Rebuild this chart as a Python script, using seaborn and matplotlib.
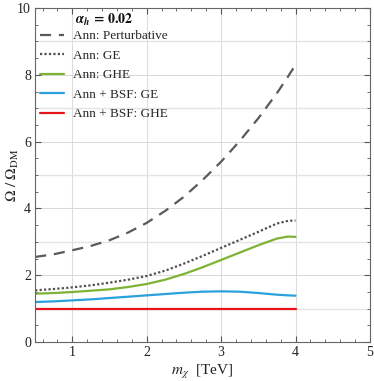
import pandas as pd
import matplotlib
matplotlib.use("Agg")
from matplotlib import pyplot as plt
from matplotlib.ticker import MultipleLocator
import seaborn as sns

# values
m_chi = [0.5, 0.75, 1.0, 1.25, 1.5, 1.75, 2.0, 2.25, 2.5, 2.75, 3.0, 3.25, 3.5, 3.75, 3.9, 4.0]
pert = [2.55, 2.63, 2.75, 2.88, 3.05, 3.28, 3.57, 3.93, 4.35, 4.85, 5.4, 6.02, 6.7, 7.45, 7.95, 8.3]
ann_ge = [1.55, 1.59, 1.64, 1.7, 1.78, 1.87, 1.98, 2.14, 2.35, 2.58, 2.82, 3.06, 3.3, 3.55, 3.63, 3.64]
ann_ghe = [1.45, 1.47, 1.5, 1.54, 1.58, 1.65, 1.74, 1.87, 2.04, 2.24, 2.46, 2.68, 2.9, 3.1, 3.16, 3.15]
bsf_ge = [1.2, 1.22, 1.25, 1.28, 1.32, 1.36, 1.4, 1.44, 1.48, 1.51, 1.52, 1.51, 1.47, 1.42, 1.4, 1.39]
bsf_ghe = [1.0] * 16

labels = ["Ann: Perturbative", "Ann: GE", "Ann: GHE", "Ann + BSF: GE", "Ann + BSF: GHE"]
colors = ["#5a5a5a", "#505050", "#7db234", "#2aa0dc", "#e8141b"]
styles = [(0, (5, 3.5)), (0, (1, 1)), "-", "-", "-"]

sns.set_style("ticks")
plt.rcParams["font.family"] = ["Liberation Serif", "DejaVu Serif"]
plt.rcParams["mathtext.fontset"] = "stix"

df = pd.DataFrame({"m": m_chi * 5,
                   "omega": pert + ann_ge + ann_ghe + bsf_ge + bsf_ghe,
                   "series": sum([[l] * len(m_chi) for l in labels], [])})

fig = plt.figure(figsize=(3.74, 3.81), dpi=100)
ax = fig.add_axes([0.094, 0.102, 0.895, 0.877])

for lab, c, ls in zip(labels, colors, styles):
    sub = df[df.series == lab]
    sns.lineplot(data=sub, x="m", y="omega", ax=ax, color=c, lw=1.6,
                 linestyle=ls, label=lab)

ax.set_xlim(0.5, 5)
ax.set_ylim(0, 10)
ax.xaxis.set_major_locator(MultipleLocator(1))
ax.xaxis.set_minor_locator(MultipleLocator(0.2))
ax.yaxis.set_major_locator(MultipleLocator(2))
ax.yaxis.set_minor_locator(MultipleLocator(0.5))
for v in range(1, 5):
    ax.axvline(v, color="#dddddd", lw=0.8, zorder=0)
for v in range(1, 10):
    ax.axhline(v, color="#e4e4e4" if v % 2 else "#d8d8d8", lw=1.0 if v % 2 else 0.7, zorder=0)
ax.tick_params(which="both", direction="in", top=True, right=True, colors="#555555",
               labelcolor="#222222", labelsize=10, pad=3)
ax.tick_params(which="major", length=4)
ax.tick_params(which="minor", length=2)
for s in ax.spines.values():
    s.set_color("#666666")
    s.set_linewidth(0.8)
ax.set_xlabel(r"$m_\chi$  [TeV]", fontsize=11, color="#222222", labelpad=3)
ax.set_ylabel(r"$\Omega\ /\ \Omega_{\rm DM}$", fontsize=11, color="#222222")
ax.yaxis.set_label_coords(-0.042, 0.5)
ax.text(0.12, 0.965, r"$\mathbfit{\alpha_h}\mathbf{\,=\,0.02}$", transform=ax.transAxes,
        fontsize=10, color="#111111", va="center", ha="left")
ax.legend(loc="upper left", bbox_to_anchor=(0.0, 0.95), frameon=False, fontsize=9.5,
          handlelength=1.8, handletextpad=0.7, labelspacing=0.55, borderaxespad=0.0)
fig.savefig("out.png", dpi=100)
